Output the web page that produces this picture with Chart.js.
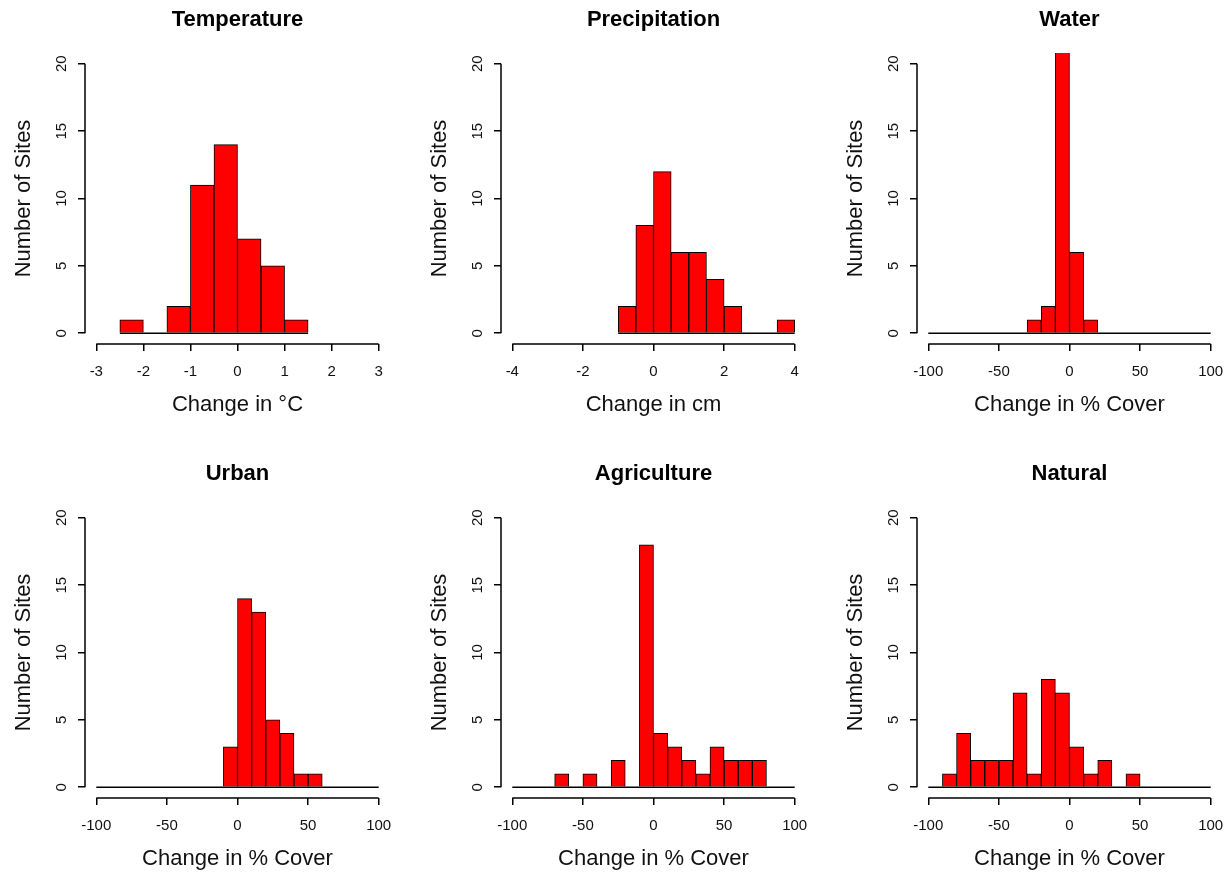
<!DOCTYPE html>
<html lang="en">
  <head>
    <meta charset="UTF-8" />
    <title>Change in climate and land cover</title>
    <script src="https://cdn.jsdelivr.net/npm/chart.js"></script>
    <style>
      body {
        margin: 0;
        background: #fff;
        width: 1230px;
        height: 873px;
        overflow: hidden;
        position: relative;
      }
      .panel {
        position: absolute;
        width: 416px;
        height: 454px;
      }
    </style>
  </head>
  <body>
    <div class="panel" style="left: -5px; top: -18px"><canvas id="temp"></canvas></div>
    <div class="panel" style="left: 411px; top: -18px"><canvas id="precip"></canvas></div>
    <div class="panel" style="left: 827px; top: -18px"><canvas id="water"></canvas></div>
    <div class="panel" style="left: -5px; top: 436px"><canvas id="urban"></canvas></div>
    <div class="panel" style="left: 411px; top: 436px"><canvas id="agri"></canvas></div>
    <div class="panel" style="left: 827px; top: 436px"><canvas id="natural"></canvas></div>

    <script>
      // y axis ticks shared by every panel
      const countTicks = [0, 5, 10, 15, 20]

      // Temperature (bin edges and counts)
      const tempBreaks = [-2.5, -2, -1.5, -1, -0.5, 0, 0.5, 1, 1.5]
      const tempCounts = [1, 0, 2, 11, 14, 7, 5, 1]
      const tempTicks = [-3, -2, -1, 0, 1, 2, 3]

      // Precipitation
      const precipBreaks = [-1, -0.5, 0, 0.5, 1, 1.5, 2, 2.5, 3, 3.5, 4]
      const precipCounts = [2, 8, 12, 6, 6, 4, 2, 0, 0, 1]
      const precipTicks = [-4, -2, 0, 2, 4]

      // land cover panels share the same bins
      const coverBreaks = [-100, -90, -80, -70, -60, -50, -40, -30, -20, -10, 0,
        10, 20, 30, 40, 50, 60, 70, 80, 90, 100]
      const coverTicks = [-100, -50, 0, 50, 100]
      const waterCounts = [0, 0, 0, 0, 0, 0, 0, 1, 2, 21, 6, 1, 0, 0, 0, 0, 0, 0, 0, 0]
      const urbanCounts = [0, 0, 0, 0, 0, 0, 0, 0, 0, 3, 14, 13, 5, 4, 1, 1, 0, 0, 0, 0]
      const agriCounts = [0, 0, 0, 1, 0, 1, 0, 2, 0, 18, 4, 3, 2, 1, 3, 2, 2, 2, 0, 0]
      const naturalCounts = [0, 1, 4, 2, 2, 2, 7, 1, 8, 7, 3, 1, 2, 0, 1, 0, 0, 0, 0, 0]

      Chart.defaults.font.family = "'Liberation Sans', Arial, sans-serif"
      Chart.defaults.color = "#111"

      // R style axes: line only between first and last tick
      const rAxes = {
        id: "rAxes",
        afterDraw(chart) {
          const { ctx, chartArea } = chart
          const x = chart.scales.x
          const y = chart.scales.y
          ctx.save()
          ctx.strokeStyle = "#000"
          ctx.lineWidth = 1.5
          ctx.beginPath()
          ctx.moveTo(x.getPixelForValue(x.ticks[0].value), chartArea.bottom)
          ctx.lineTo(x.getPixelForValue(x.ticks[x.ticks.length - 1].value), chartArea.bottom)
          ctx.moveTo(chartArea.left, y.getPixelForValue(y.ticks[0].value))
          ctx.lineTo(chartArea.left, y.getPixelForValue(y.ticks[y.ticks.length - 1].value))
          ctx.stroke()
          ctx.restore()
        },
      }

      function histogram(id, title, xLabel, breaks, counts, xTicks) {
        const lo = xTicks[0]
        const hi = xTicks[xTicks.length - 1]
        const pad = (hi - lo) * 0.04
        const bars = counts.map((c, i) => ({ x: (breaks[i] + breaks[i + 1]) / 2, y: c }))
        const baseline = [
          { x: breaks[0], y: 0 },
          { x: breaks[breaks.length - 1], y: 0 },
        ]

        new Chart(document.getElementById(id), {
          type: "bar",
          data: {
            datasets: [
              {
                type: "line",
                data: baseline,
                borderColor: "#000",
                borderWidth: 1.5,
                pointRadius: 0,
                order: 0,
              },
              {
                data: bars,
                backgroundColor: "#ff0000",
                borderColor: "#000",
                borderWidth: 1,
                barPercentage: 1,
                categoryPercentage: 1,
                order: 1,
              },
            ],
          },
          options: {
            responsive: true,
            maintainAspectRatio: false,
            animation: false,
            layout: { padding: { left: 0, right: 21, top: 0, bottom: 0 } },
            plugins: { legend: { display: false }, tooltip: { enabled: false } },
            scales: {
              x: {
                type: "linear",
                position: "bottom",
                offset: false,
                min: lo - pad,
                max: hi + pad,
                afterBuildTicks: (s) => {
                  s.ticks = xTicks.map((v) => ({ value: v }))
                },
                afterFit: (s) => {
                  s.height = 92
                },
                ticks: { font: { size: 15 }, color: "#111", padding: 12, maxRotation: 0 },
                grid: {
                  offset: false,
                  drawOnChartArea: false,
                  drawTicks: true,
                  tickLength: 7,
                  color: "#000",
                  lineWidth: 1.5,
                },
                border: { display: false },
                title: {
                  display: true,
                  text: xLabel,
                  font: { size: 22 },
                  color: "#111",
                  padding: { top: 0, bottom: 18 },
                },
              },
              top: {
                type: "linear",
                position: "top",
                offset: false,
                min: lo - pad,
                max: hi + pad,
                afterFit: (s) => {
                  s.height = 71
                },
                ticks: { display: false },
                grid: { display: false },
                border: { display: false },
                title: {
                  display: true,
                  text: title,
                  font: { size: 22, weight: "bold" },
                  color: "#000",
                  padding: { top: 25, bottom: 0 },
                },
              },
              y: {
                type: "linear",
                min: -0.8,
                max: 20.8,
                afterBuildTicks: (s) => {
                  s.ticks = countTicks.map((v) => ({ value: v }))
                },
                afterFit: (s) => {
                  s.width = 90
                },
                ticks: {
                  font: { size: 15 },
                  color: "#111",
                  padding: 8,
                  minRotation: 90,
                  maxRotation: 90,
                  crossAlign: "center",
                },
                grid: { drawOnChartArea: false, drawTicks: true, tickLength: 7, color: "#000", lineWidth: 1.5 },
                border: { display: false },
                title: {
                  display: true,
                  text: "Number of Sites",
                  font: { size: 22 },
                  color: "#111",
                  padding: { top: 16, bottom: 0 },
                },
              },
            },
          },
          plugins: [rAxes],
        })
      }

      histogram("temp", "Temperature", "Change in °C", tempBreaks, tempCounts, tempTicks)
      histogram("precip", "Precipitation", "Change in cm", precipBreaks, precipCounts, precipTicks)
      histogram("water", "Water", "Change in % Cover", coverBreaks, waterCounts, coverTicks)
      histogram("urban", "Urban", "Change in % Cover", coverBreaks, urbanCounts, coverTicks)
      histogram("agri", "Agriculture", "Change in % Cover", coverBreaks, agriCounts, coverTicks)
      histogram("natural", "Natural", "Change in % Cover", coverBreaks, naturalCounts, coverTicks)
    </script>
  </body>
</html>
